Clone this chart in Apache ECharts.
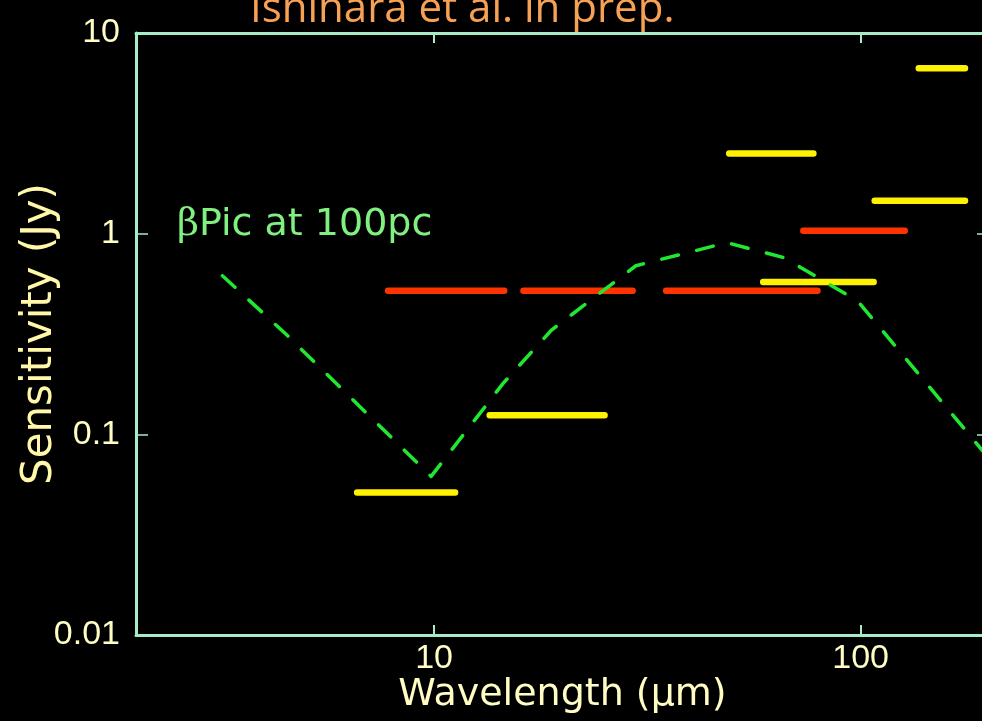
<!DOCTYPE html>
<html><head><meta charset="utf-8">
<script src="https://cdn.jsdelivr.net/npm/echarts@6/dist/echarts.min.js"></script>
<style>html,body{margin:0;padding:0;background:#000;}#c{width:982px;height:721px;}</style>
</head><body><div id="c"></div>
<script>
// Yellow sensitivity bands (wavelength start/end in micron, flux in Jy)
const yellowStart = [6.6, 13.5, 49.2, 59.1, 107.9, 136.9];
const yellowEnd   = [11.2, 25.1, 77.5, 107.3, 175.7, 175.7];
const yellowFlux  = [0.0513, 0.1245, 2.51, 0.575, 1.46, 6.68];
// Red sensitivity bands
const redStart = [7.8, 16.2, 35.0, 73.4];
const redEnd   = [14.6, 29.2, 79.2, 126.9];
const redFlux  = [0.519, 0.519, 0.519, 1.035];
// beta Pic SED at 100 pc (dashed green)
const sedWavelength = [3.19, 4.49, 9.84, 14.53, 18.85, 29.72, 48.6, 66.2, 98.4, 200];
const sedFlux       = [0.617, 0.316, 0.0617, 0.180, 0.331, 0.692, 0.902, 0.759, 0.462, 0.0759];
// tick labels
const xTickLabels = ['10', '100'];
const yTickLabels = ['0.01', '0.1', '1', '10'];

function segs(s, e, f) {
  const out = [];
  for (let i = 0; i < s.length; i++) {
    out.push([s[i], f[i]], [e[i], f[i]], '-');
  }
  return out;
}
const sed = sedWavelength.map((w, i) => [w, sedFlux[i]]);

const axisCol = '#a6ecc6';
const labCol = '#fffcc4';
function isDecade(v) { const l = Math.log10(v); return Math.abs(l - Math.round(l)) < 1e-6; }

const chart = echarts.init(document.getElementById('c'), null, {renderer: 'canvas'});
chart.setOption({
  backgroundColor: '#000',
  animation: false,
  grid: {left: 136, top: 33, width: 853, height: 602, containLabel: false, outerBoundsMode: 'none'},
  xAxis: [{
    type: 'log', logBase: 10, min: 2, max: 200, position: 'bottom',
    axisLine: {onZero: false, lineStyle: {color: axisCol, width: 3}},
    axisTick: {inside: true, length: 10, lineStyle: {color: axisCol, width: 2}},
    splitLine: {show: false},
    axisLabel: {
      color: labCol, fontFamily: 'Liberation Sans', fontSize: 34, margin: 7,
      formatter: v => { if (!isDecade(v)) return ''; const l = Math.round(Math.log10(v)); return xTickLabels[l - 1] || ''; }
    },
    name: 'Wavelength (\u03bcm)', nameLocation: 'middle', nameGap: 41, nameMoveOverlap: false,
    nameTextStyle: {color: labCol, fontFamily: 'DejaVu Sans', fontSize: 38}
  }, {
    type: 'log', logBase: 10, min: 2, max: 200, position: 'top',
    axisLine: {onZero: false, lineStyle: {color: axisCol, width: 3}},
    axisTick: {inside: true, length: 10, lineStyle: {color: axisCol, width: 2}},
    splitLine: {show: false}, axisLabel: {show: false}
  }],
  yAxis: [{
    type: 'log', logBase: 10, min: 0.01, max: 10, position: 'left',
    axisLine: {onZero: false, lineStyle: {color: axisCol, width: 3}},
    axisTick: {inside: true, length: 12, lineStyle: {color: axisCol, width: 1.5}},
    splitLine: {show: false},
    axisLabel: {
      color: labCol, fontFamily: 'Liberation Sans', fontSize: 34, margin: 16,
      formatter: v => { const l = Math.round(Math.log10(v)); return yTickLabels[l + 2] || ''; }
    },
    name: 'Sensitivity (Jy)', nameLocation: 'middle', nameGap: 75, nameMoveOverlap: false,
    nameTextStyle: {color: '#fff8a8', fontFamily: 'DejaVu Sans', fontSize: 42}
  }, {
    type: 'log', logBase: 10, min: 0.01, max: 10, position: 'right',
    axisLine: {onZero: false, lineStyle: {color: axisCol, width: 3}},
    axisTick: {inside: true, length: 12, lineStyle: {color: axisCol, width: 1.5}},
    splitLine: {show: false}, axisLabel: {show: false}
  }],
  series: [{
    type: 'line', name: 'red', data: segs(redStart, redEnd, redFlux),
    showSymbol: false, symbol: 'none', connectNulls: false,
    lineStyle: {color: '#ff3300', width: 6.5, cap: 'round'}
  }, {
    type: 'line', name: 'yellow', data: segs(yellowStart, yellowEnd, yellowFlux),
    showSymbol: false, symbol: 'none', connectNulls: false,
    lineStyle: {color: '#fff200', width: 6.5, cap: 'round'}
  }, {
    type: 'line', name: 'sed', data: sed,
    showSymbol: false, symbol: 'none',
    lineStyle: {color: '#20e830', width: 3.5, type: [17, 19], cap: 'round', join: 'round'}
  }],
  graphic: [{
    type: 'text', left: 250, top: -11,
    style: {text: 'Ishihara et al. in prep.', fill: '#f7a155', fontFamily: 'Open Sans', fontSize: 42}
  }, {
    type: 'text', x: 177, y: 225,
    style: {
      text: '{b|\u03b2}{t|Pic at 100pc}', verticalAlign: 'middle',
      rich: {
        b: {fontFamily: 'DejaVu Serif', fontSize: 38, fill: '#80f080', color: '#80f080'},
        t: {fontFamily: 'DejaVu Sans', fontSize: 38, fill: '#80f080', color: '#80f080'}
      }
    }
  }]
});
</script>
</body></html>
